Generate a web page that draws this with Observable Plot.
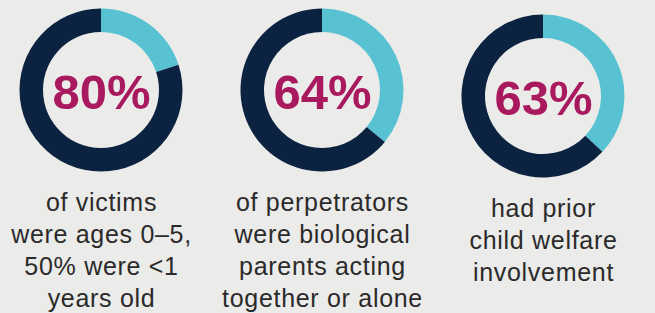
<!DOCTYPE html>
<html><head><meta charset="utf-8">
<script src="https://cdn.jsdelivr.net/npm/d3@7"></script>
<script src="https://cdn.jsdelivr.net/npm/@observablehq/plot@0.6"></script>
<style>
html,body{margin:0;padding:0;background:#ebebe9;}
#chart{width:655px;height:313px;overflow:hidden;}
g[aria-description="caption"] text{letter-spacing:0.7px;}
</style></head><body><div id="chart"></div>
<script>
// ---- data ----
const categories = ["victims", "perpetrators", "welfare"];
const percents = [80, 64, 63];
const percentLabels = ["80%", "64%", "63%"];
const captions = [
  "of victims\nwere ages 0–5,\n50% were <1\nyears old",
  "of perpetrators\nwere biological\nparents acting\ntogether or alone",
  "had prior\nchild welfare\ninvolvement"
];

// ---- layout / style ----
const W = 655, H = 313;
const centerY = {victims: 90, perpetrators: 90, welfare: 96};
const NAVY = "#0b2240", TEAL = "#58c2d3", MAGENTA = "#a8195e", INK = "#2a2a2a";
const FONT = "'Liberation Sans', Arial, Helvetica, sans-serif";
const CAP_SIZE = 25;

const rows = categories.map((c, i) => ({category: c, value: percents[i], label: percentLabels[i], caption: captions[i]}));

function donuts(index, scales) {
  const angle = d3.scaleLinear([0, 100], [0, 2 * Math.PI]);
  const arc = d3.arc().innerRadius(58).outerRadius(81.5);
  const g = d3.create("svg:g");
  for (const d of rows) {
    const cx = scales.x(d.category), cy = scales.y(centerY[d.category]);
    const rest = 100 - d.value;
    const gg = g.append("g").attr("transform", `translate(${cx},${cy})`);
    gg.append("path").attr("fill", TEAL).attr("d", arc({startAngle: angle(0), endAngle: angle(rest)}));
    gg.append("path").attr("fill", NAVY).attr("d", arc({startAngle: angle(rest), endAngle: angle(100)}));
  }
  return g.node();
}

const chart = Plot.plot({
  width: W, height: H,
  margin: 0,
  style: {background: "transparent", fontFamily: FONT},
  x: {type: "point", domain: categories, range: [100, 543.5], padding: 0, axis: null},
  y: {domain: [0, H], range: [0, H], axis: null},
  marks: [
    donuts,
    Plot.text(rows, {
      x: "category", y: d => centerY[d.category] + 18, text: "label",
      lineAnchor: "bottom", fontSize: 49, fontWeight: "bold", fill: MAGENTA, fontFamily: FONT
    }),
    Plot.text(rows, {
      x: "category", y: d => centerY[d.category] + 115.5 - 0.71 * CAP_SIZE, text: "caption",
      lineAnchor: "top", fontSize: CAP_SIZE, lineHeight: 32 / CAP_SIZE, fill: INK, fontFamily: FONT,
      ariaDescription: "caption"
    })
  ]
});
document.getElementById("chart").append(chart);
</script></body></html>
